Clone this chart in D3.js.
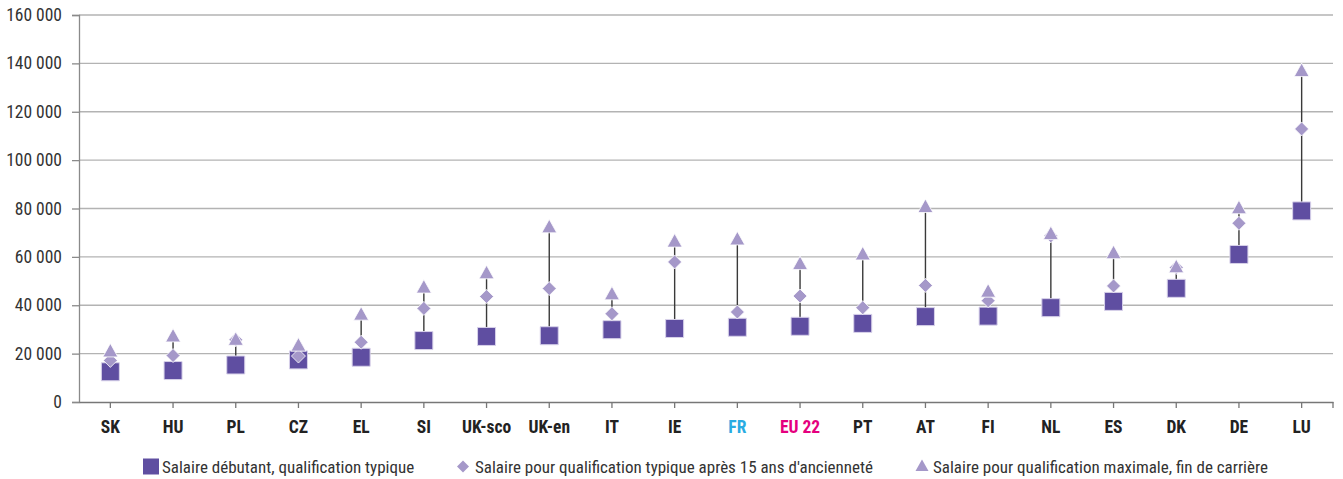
<!DOCTYPE html>
<html><head><meta charset="utf-8">
<script src="https://cdn.jsdelivr.net/npm/d3@7"></script>
<style>
body{margin:0;background:#fff;}
svg{display:block;}
text{font-family:"Liberation Sans Narrow","Roboto Condensed","DejaVu Sans Condensed",sans-serif;}
</style></head><body>
<svg id="c" width="1343" height="479"></svg>
<script>
const categories = ["SK","HU","PL","CZ","EL","SI","UK-sco","UK-en","IT","IE","FR","EU 22","PT","AT","FI","NL","ES","DK","DE","LU"];
const starting = [12500,13000,15300,17400,18500,25400,27100,27400,29900,30400,30900,31300,32500,35300,35500,39000,41600,47000,61000,79000];
const after15 = [17200,19200,25700,19000,24700,38700,43600,46900,36500,57900,37200,43800,39000,48200,41900,68700,48000,55600,73900,112900];
const maximum = [20500,26700,25300,22900,35700,46900,52800,71800,44100,65900,66800,56600,60600,80200,45200,69000,61100,55300,79700,136400];
const yTicks = [0,20000,40000,60000,80000,100000,120000,140000,160000];
const labelColors = {"FR":"#29abe2","EU 22":"#e5007e"};
const legendLabels = ["Salaire débutant, qualification typique","Salaire pour qualification typique après 15 ans d'ancienneté","Salaire pour qualification maximale, fin de carrière"];

const svg = d3.select("#c");
const m = {l:79, r:1333, t:15, b:402};
const x = d3.scaleBand().domain(categories).range([m.l, m.r]);
const y = d3.scaleLinear().domain([0,160000]).range([m.b, m.t]);
const fmt = v => d3.format(",")(v).replace(/,/g," ");

// gridlines
svg.append("g").selectAll("line").data(yTicks.filter(d=>d>0)).join("line")
  .attr("x1", m.l).attr("x2", m.r).attr("y1", d=>y(d)).attr("y2", d=>y(d))
  .attr("stroke","#b3b3b3").attr("stroke-width",1.3);

// y axis
const ya = svg.append("g").attr("transform",`translate(${m.l},0)`)
  .call(d3.axisLeft(y).tickValues(yTicks).tickFormat(fmt).tickSize(7).tickPadding(10));
ya.select(".domain").attr("stroke","#8a8a8a").attr("stroke-width",1.3);
ya.selectAll(".tick line").attr("stroke","#8a8a8a").attr("stroke-width",1.3);
ya.selectAll("text").attr("font-size",17.5).attr("fill","#333");

// x axis
const xa = svg.append("g").attr("transform",`translate(0,${m.b})`)
  .call(d3.axisBottom(x).tickSize(6).tickSizeOuter(0));
xa.select(".domain").attr("stroke","#777").attr("stroke-width",1.6);
xa.selectAll(".tick line").attr("stroke","#777").attr("stroke-width",1.3);
xa.selectAll("text").attr("font-size",17.5).attr("font-weight","bold")
  .attr("y",31).attr("dy",0)
  .attr("fill", d => labelColors[d] || "#222");
xa.append("line").attr("x1",m.r).attr("x2",m.r).attr("y1",0).attr("y2",6).attr("stroke","#777").attr("stroke-width",1.3);

const cx = d => x(d) + x.bandwidth()/2;

// connectors
svg.append("g").selectAll("line").data(categories).join("line")
  .attr("x1", cx).attr("x2", cx)
  .attr("y1", (d,i)=>y(starting[i])).attr("y2",(d,i)=>y(maximum[i]))
  .attr("stroke","#3a3a3a").attr("stroke-width",1.4);

const sqPath = "M-9,-9H9V9H-9Z";
const diPath = "M0,-7L7,0L0,7L-7,0Z";
const triPath = "M0,-9L7.5,4.5L-7.5,4.5Z";
const sqColor = "#5f4ea1", diColor = "#a598c9", triColor = "#a598c9";

svg.append("g").selectAll("path").data(categories).join("path")
  .attr("d", sqPath).attr("transform",(d,i)=>`translate(${cx(d)},${y(starting[i])})`)
  .attr("fill",sqColor).attr("stroke","#d8d2ea").attr("stroke-width",1);
svg.append("g").selectAll("path").data(categories).join("path")
  .attr("d", diPath).attr("transform",(d,i)=>`translate(${cx(d)},${y(after15[i])})`)
  .attr("fill",diColor).attr("stroke","#fff").attr("stroke-width",0.8);
svg.append("g").selectAll("path").data(categories).join("path")
  .attr("d", triPath).attr("transform",(d,i)=>`translate(${cx(d)},${y(maximum[i])})`)
  .attr("fill",triColor).attr("stroke","#fff").attr("stroke-width",0.8);

// legend
const legend = svg.append("g");
const lx = [151, 463, 922];
const tx = [162, 475, 933];
const paths = [ "M-8,-8H8V8H-8Z", "M0,-6L6,0L0,6L-6,0Z", "M0,-7L6.5,4.5L-6.5,4.5Z"];
const cols = [sqColor, diColor, triColor];
legendLabels.forEach((t,i)=>{
  legend.append("path").attr("d",paths[i]).attr("transform",`translate(${lx[i]},466.5)`).attr("fill",cols[i]);
  legend.append("text").attr("x", tx[i]).attr("y",472.5).attr("font-size",17).attr("fill","#333").text(t);
});
</script></body></html>
